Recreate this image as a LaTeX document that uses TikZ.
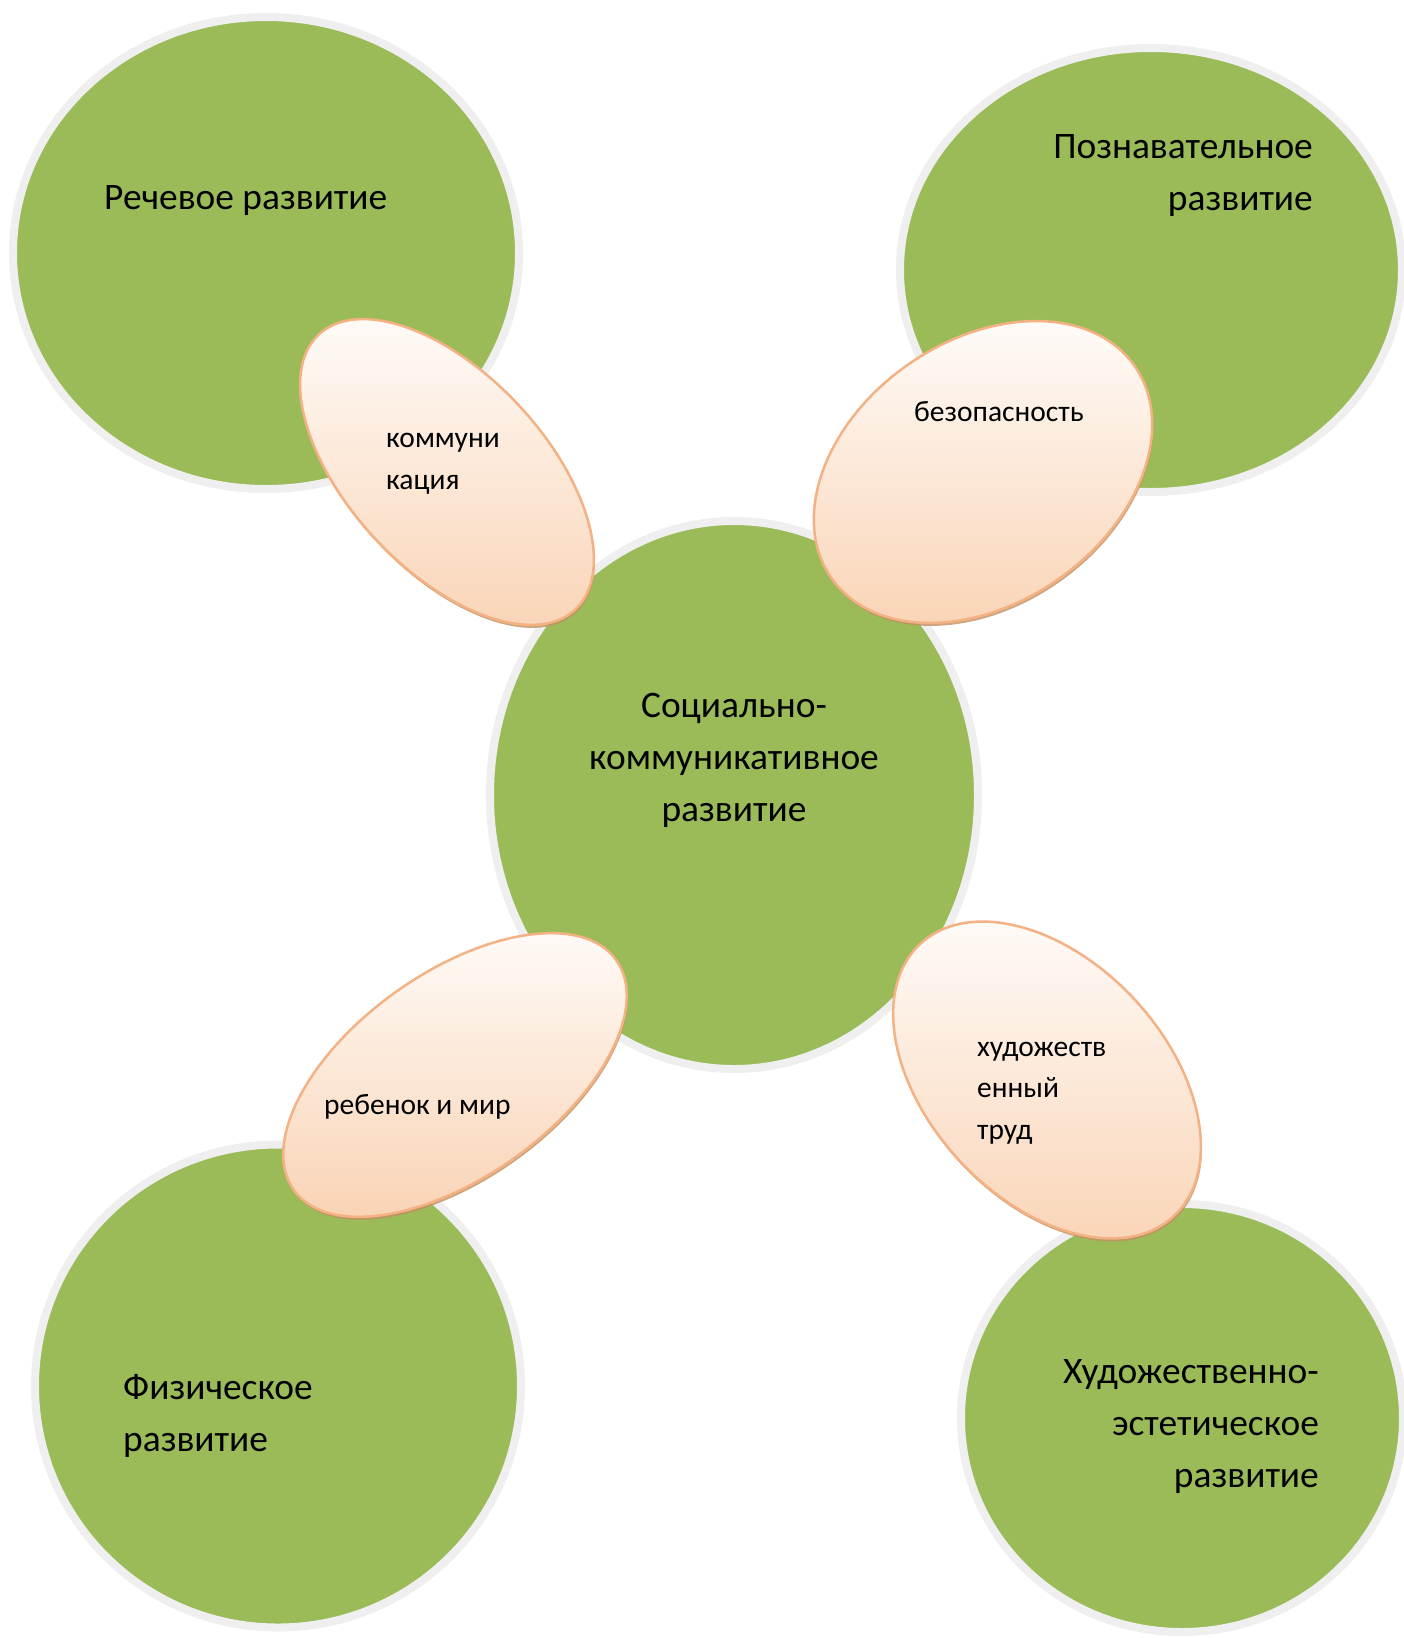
\documentclass[tikz,border=0pt]{standalone}
\usepackage{fontspec}
\setmainfont{Carlito}
\usetikzlibrary{shapes.geometric,shadows}
\definecolor{grn}{HTML}{9BBB59}
\definecolor{ringc}{HTML}{EFEFEF}
\definecolor{ringsh}{HTML}{A3AC93}
\definecolor{ptop}{HTML}{FFFDFB}
\definecolor{pbot}{HTML}{F9D3B4}
\definecolor{pline}{HTML}{F4B183}
\definecolor{psh}{HTML}{C09060}
\begin{document}
\begin{tikzpicture}[x=1pt,y=1pt,
  area/.style={ellipse, fill=grn, draw=ringc, line width=8pt, inner sep=0pt,
    drop shadow={shadow xshift=2pt, shadow yshift=-3pt, fill=ringsh, opacity=1}},
  petal/.style={ellipse, draw=pline, line width=2.5pt, top color=ptop, bottom color=pbot, inner sep=0pt,
    drop shadow={shadow xshift=1pt, shadow yshift=-3pt, fill=psh, opacity=0.8}},
  big/.style={font=\fontsize{37.4}{52}\selectfont, text=black, inner sep=0pt},
  small/.style={font=\fontsize{29.5}{41.5}\selectfont, text=black, inner sep=0pt}]
\useasboundingbox (0,0) rectangle (1404,-1638);
\fill[white] (0,0) rectangle (1404,-1638);

% green areas
\node[area, minimum width=506pt, minimum height=472pt] (rech) at (266,-253) {};
\node[area, minimum width=502pt, minimum height=444pt] (pozn) at (1151,-270) {};
\node[area, minimum width=488pt, minimum height=548pt] (soc) at (734,-795) {};
\node[area, minimum width=486pt, minimum height=483pt] (fiz) at (278,-1386) {};
\node[area, minimum width=442pt, minimum height=428pt] (hud) at (1182,-1418) {};

% petals
\node[petal, rotate=-47, minimum width=376pt, minimum height=196pt] (pA) at (447,-472) {};
\node[petal, rotate=35, minimum width=370pt, minimum height=262pt] (pB) at (983,-472) {};
\node[petal, rotate=35.5, minimum width=396pt, minimum height=204pt] (pC) at (455,-1075) {};
\node[petal, rotate=-47, minimum width=372pt, minimum height=238pt] (pD) at (1047,-1080) {};

% texts (base anchor of a multi-line node = baseline of its last line)
\node[big, anchor=base west] (t1) at (104,-209) {Речевое развитие};
\node[big, anchor=base east, align=right] (t2) at (1313,-210) {Познавательное\\развитие};
\node[big, anchor=base, align=center] (t3) at (734,-821) {Социально-\\коммуникативное\\развитие};
\node[big, anchor=base west, align=left] (t4) at (123,-1451) {Физическое\\развитие};
\node[big, anchor=base east, align=right] (t5) at (1319,-1487) {Художественно-\\эстетическое\\развитие};

\node[small, anchor=base west, align=left] (sA) at (386,-489) {коммуни\\кация};
\node[small, anchor=base west] (sB) at (914,-421) {безопасность};
\node[small, anchor=base west] (sC) at (324,-1114) {ребенок и мир};
\node[small, anchor=base west, align=left] (sD) at (977,-1139) {художеств\\енный\\труд};
\end{tikzpicture}
\end{document}
